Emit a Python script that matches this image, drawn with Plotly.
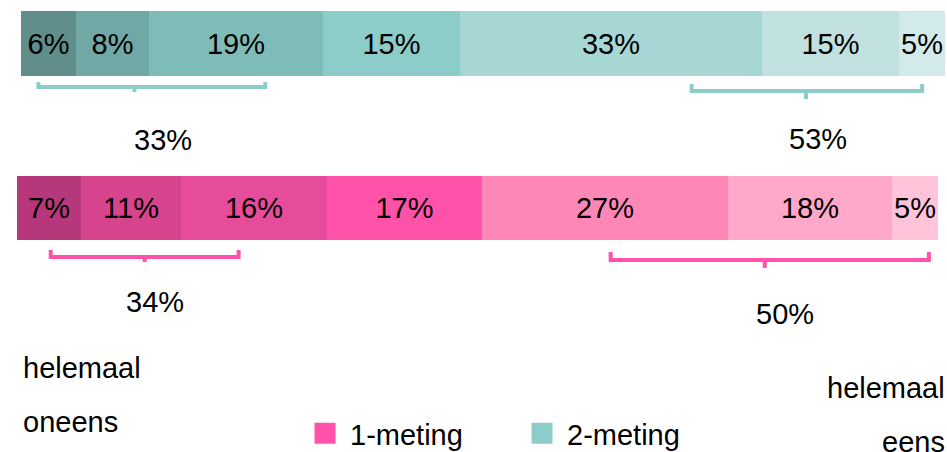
import plotly.graph_objects as go

# ---- data ----
metingen = ["1-meting", "2-meting"]
meting1_values = [7, 11, 16, 17, 27, 18, 5]
meting2_values = [6, 8, 19, 15, 33, 15, 5]
left_group = [0, 1, 2]      # segments summed under the left bracket
right_group = [4, 5, 6]     # segments summed under the right bracket
side_left = ["helemaal", "oneens"]
side_right = ["helemaal", "eens"]

# ---- styles ----
pink_base = "#ff52a8"
teal_base = "#8ccdca"
pink_colors = ["#b6387a", "#d5448d", "#e74c9b", "#ff52a8", "#ff87b7", "#ffa8c9", "#ffc4d9"]
teal_colors = ["#5f8e8b", "#70a8a6", "#7fbcb8", "#8ccdca", "#a7d7d4", "#c0e1e0", "#d2eaea"]
FONT = "Liberation Sans, Arial, sans-serif"
FS = 29
W, H = 947, 452

def py(px):
    return 1 - px / H

fig = go.Figure()

# pink bar on x/y, teal bar on x2/y2
for i, v in enumerate(meting1_values):
    fig.add_trace(go.Bar(
        x=[v], y=[0], orientation="h", marker=dict(color=pink_colors[i], line=dict(width=0)),
        text=[f"{v}%"], textposition="inside", insidetextanchor="middle", textangle=0,
        textfont=dict(color="#000000", size=FS, family=FONT),
        showlegend=False, hoverinfo="skip", xaxis="x", yaxis="y"))
for i, v in enumerate(meting2_values):
    fig.add_trace(go.Bar(
        x=[v], y=[0], orientation="h", marker=dict(color=teal_colors[i], line=dict(width=0)),
        text=[f"{v}%"], textposition="inside", insidetextanchor="middle", textangle=0,
        textfont=dict(color="#000000", size=FS, family=FONT),
        showlegend=False, hoverinfo="skip", xaxis="x2", yaxis="y2"))

# legend entries
for name, col in zip(metingen, [pink_base, teal_base]):
    fig.add_trace(go.Scatter(
        x=[None], y=[None], mode="markers", name=name,
        marker=dict(symbol="square", size=16, color=col, line=dict(width=5, color=col)),
        xaxis="x", yaxis="y", hoverinfo="skip"))

# brackets (x in data units, y in pixels)
brackets = [
    # (xref, x0, x1, xmid, ytop, yline, ytick, color)
    ("x2", 1.9, 26.7, 12.4, 82, 87, 92, teal_base),
    ("x2", 73.3, 98.5, 85.8, 84, 91, 99, teal_base),
    ("x", 3.7, 24.3, 14.0, 250, 257, 262, pink_base),
    ("x", 65.1, 100.0, 82.0, 252, 260, 268, pink_base),
]
for xr, x0, x1, xm, yt, yl, yk, col in brackets:
    path = (f"M {x0},{py(yt)} L {x0},{py(yl)} L {x1},{py(yl)} L {x1},{py(yt)} "
            f"M {xm},{py(yl)} L {xm},{py(yk)}")
    fig.add_shape(type="path", path=path, xref=xr, yref="paper",
                  line=dict(color=col, width=4))

# bracket sum labels
sums = [
    ("x2", 15.5, 139.5, sum(meting2_values[i] for i in left_group)),
    ("x2", 87.1, 139.0, sum(meting2_values[i] for i in right_group)),
    ("x", 15.1, 302.0, sum(meting1_values[i] for i in left_group)),
    ("x", 84.2, 313.5, sum(meting1_values[i] for i in right_group)),
]
for xr, x, ypx, s in sums:
    fig.add_annotation(x=x, xref=xr, y=py(ypx), yref="paper", text=f"{s}%",
                       showarrow=False, xanchor="center", yanchor="middle",
                       font=dict(size=FS, family=FONT, color="#000000"))

# side labels
for txt, ypx in zip(side_left, [368, 422]):
    fig.add_annotation(x=21 / W, xref="paper", y=py(ypx), yref="paper", text=txt,
                       showarrow=False, xanchor="left", yanchor="middle",
                       font=dict(size=FS, family=FONT, color="#000000"))
for txt, ypx in zip(side_right, [388, 442]):
    fig.add_annotation(x=947 / W, xref="paper", y=py(ypx), yref="paper", text=txt,
                       showarrow=False, xanchor="right", yanchor="middle",
                       font=dict(size=FS, family=FONT, color="#000000"))

ax_common = dict(showgrid=False, zeroline=False, showticklabels=False, showline=False,
                 ticks="", fixedrange=True)
fig.update_layout(
    width=W, height=H,
    margin=dict(l=0, r=0, t=0, b=0, autoexpand=False),
    paper_bgcolor="white", plot_bgcolor="rgba(0,0,0,0)",
    barmode="stack", bargap=0,
    uniformtext=dict(minsize=FS, mode="show"),
    font=dict(family=FONT, size=FS, color="#000000"),
    xaxis=dict(domain=[17 / W, 938 / W], range=[0, 101], anchor="y", **ax_common),
    yaxis=dict(domain=[py(240), py(176)], range=[-0.5, 0.5], anchor="x", **ax_common),
    xaxis2=dict(domain=[21 / W, 945 / W], range=[0, 101], anchor="y2", **ax_common),
    yaxis2=dict(domain=[py(76), py(11)], range=[-0.5, 0.5], anchor="x2", **ax_common),
    legend=dict(orientation="h", x=300 / W, xanchor="left", y=py(459), yanchor="bottom",
                font=dict(size=FS, family=FONT, color="#000000"),
                itemwidth=40, entrywidth=162, entrywidthmode="pixels",
                bgcolor="rgba(0,0,0,0)", borderwidth=0, traceorder="normal"),
    showlegend=True,
)

fig.write_html("out.html", config={"displayModeBar": False},
               post_script="document.body.style.margin='0';document.body.style.overflow='hidden';")
